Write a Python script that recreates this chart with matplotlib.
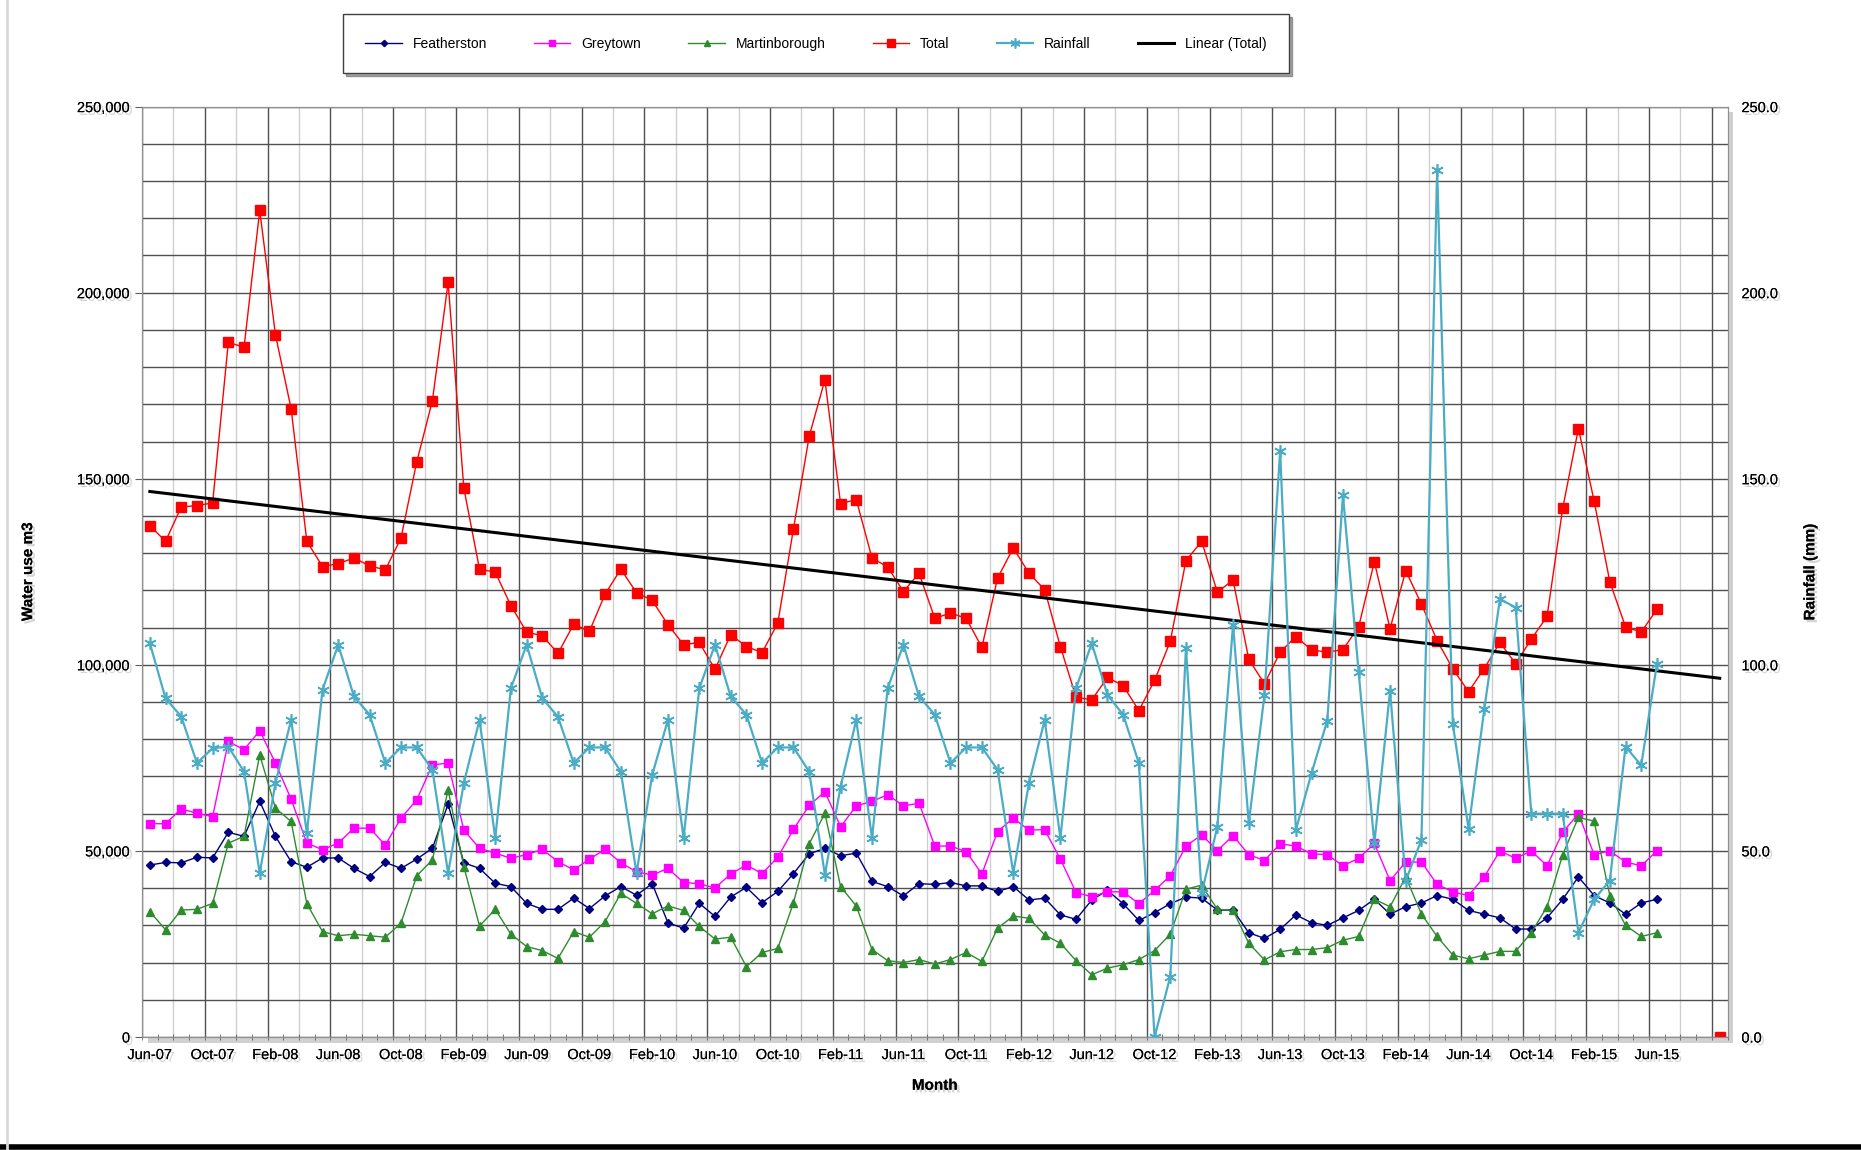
import numpy as np
import pandas as pd
import matplotlib
matplotlib.use('Agg')
import matplotlib.pyplot as plt
import matplotlib.patheffects as pe
from matplotlib.ticker import FuncFormatter, MultipleLocator
from matplotlib.patches import Rectangle
from matplotlib.lines import Line2D

plt.rcParams['font.family'] = ['Liberation Sans', 'DejaVu Sans']

# monthly categories, Jun-07 .. Oct-15
months = list(pd.date_range('2007-06-01', periods=101, freq='MS').strftime('%b-%y'))

# water use in thousands of m3 (Jun-07 .. Jun-15)
featherston = [46.2, 46.9, 46.8, 48.3, 48.1, 55.0, 53.9, 63.3, 53.9, 47.1, 45.6, 48.1, 48.1,
               45.3, 43.1, 46.9, 45.3, 47.8, 50.7, 62.6, 46.8, 45.3, 41.3, 40.4, 35.9,
               34.3, 34.3, 37.3, 34.5, 37.9, 40.4, 38.1, 41.2, 30.7, 29.2, 35.9, 32.4,
               37.6, 40.2, 36.1, 39.1, 43.9, 49.2, 50.7, 48.7, 49.4, 41.8, 40.4, 37.9, 41.2,
               41.0, 41.5, 40.6, 40.6, 39.1, 40.4, 36.8, 37.3, 32.8, 31.6, 36.8, 39.4,
               35.8, 31.3, 33.4, 35.8, 37.6, 37.3, 34.1, 34.1, 28.0, 26.5, 28.9, 32.8, 30.7,
               30, 32, 34, 37, 33, 35, 36, 38, 37, 34, 33, 32, 29, 29, 32, 37, 43, 38, 36,
               33, 36, 37]
greytown = [57.3, 57.3, 61.3, 60.1, 59.2, 79.4, 77.2, 82.3, 73.6, 63.9, 52.1, 50.3, 52.1,
            56.1, 56.1, 51.6, 58.8, 63.7, 73.1, 73.6, 55.6, 50.7, 49.4, 48.0, 49.0,
            50.4, 47.1, 44.9, 47.8, 50.4, 46.8, 44.4, 43.5, 45.3, 41.5, 41.2, 40.0,
            43.8, 46.2, 43.9, 48.3, 55.8, 62.2, 65.9, 56.5, 62.1, 63.3, 65.1, 62.1, 62.8,
            51.3, 51.3, 49.8, 43.8, 55.2, 58.8, 55.6, 55.7, 47.8, 38.8, 37.7, 39.0,
            39.0, 35.8, 39.4, 43.3, 51.3, 54.3, 50.1, 54.1, 49.0, 47.4, 51.9, 51.3, 49.2,
            49, 46, 48, 52, 42, 47, 47, 41, 39, 38, 43, 50, 48, 50, 46, 55, 60, 49, 50,
            47, 46, 50]
martinborough = [33.7, 28.8, 34.1, 34.3, 35.9, 52.1, 53.9, 75.8, 61.5, 57.9, 35.8, 28.3, 27.2,
                 27.6, 27.2, 26.8, 30.6, 43.3, 47.6, 66.4, 45.8, 29.8, 34.3, 27.6, 24.3,
                 23.2, 21.1, 28.3, 26.8, 31.0, 38.6, 35.9, 33.1, 35.2, 34.0, 29.7, 26.3,
                 26.8, 18.9, 22.7, 23.8, 36.1, 51.9, 60.1, 40.4, 35.2, 23.5, 20.5, 20.0, 20.8,
                 19.6, 20.8, 22.7, 20.3, 29.2, 32.5, 31.9, 27.4, 25.2, 20.5, 16.7, 18.5,
                 19.4, 20.8, 23.2, 27.6, 39.7, 40.8, 34.3, 34.0, 25.2, 20.7, 22.9, 23.5, 23.5,
                 24, 26, 27, 37, 35, 43, 33, 27, 22, 21, 22, 23, 23, 28, 35, 49, 59, 58, 38,
                 30, 27, 28]
total = [137.4, 133.2, 142.4, 142.8, 143.5, 186.7, 185.3, 222.1, 188.7, 168.8, 133.2, 126.4, 127.2,
         128.7, 126.6, 125.5, 134.1, 154.5, 171.0, 202.8, 147.5, 125.7, 124.9, 115.9, 108.8,
         107.8, 103.1, 110.9, 109.0, 119.0, 125.7, 119.4, 117.3, 110.8, 105.4, 106.0, 98.8,
         108.1, 104.9, 103.3, 111.2, 136.6, 161.4, 176.6, 143.3, 144.4, 128.7, 126.3, 119.7, 124.6,
         112.5, 113.9, 112.5, 104.7, 123.3, 131.4, 124.6, 120.2, 104.9, 91.3, 90.6, 96.6,
         94.4, 87.7, 95.8, 106.3, 128.0, 133.2, 119.5, 122.8, 101.5, 94.9, 103.4, 107.6, 104.0,
         103.4, 104.1, 110.2, 127.7, 109.7, 125.3, 116.3, 106.5, 98.9, 92.8, 99.0, 106.0,
         100.3, 106.9, 113.0, 142.1, 163.5, 144.0, 122.3, 110.2, 108.8, 114.9,
         None, None, None, 0.0]
# rainfall in mm
rainfall = [105.8, 91.0, 86.1, 73.6, 77.6, 78.0, 71.3, 44.0, 68.2, 85.2, 54.8, 93.3, 105.4,
            91.5, 86.6, 73.6, 77.8, 77.8, 71.8, 44.0, 68.2, 85.2, 53.4, 93.7, 105.4,
            91.0, 86.0, 73.6, 77.8, 77.8, 71.3, 44.0, 70.4, 85.2, 53.4, 93.7, 105.4,
            91.5, 86.6, 73.6, 77.8, 77.8, 71.3, 43.6, 67.3, 85.2, 53.4, 93.7, 105.4, 91.5,
            86.6, 73.6, 77.8, 77.8, 71.8, 44.0, 68.2, 85.2, 53.4, 93.7, 105.8, 91.9,
            86.6, 73.6, 0.0, 16.2, 104.5, 38.6, 56.5, 110.8, 57.4, 91.9, 157.5, 55.6, 70.9,
            85.0, 145.6, 98.0, 52.0, 93.0, 42.0, 53.0, 233.0, 84.0, 56.0, 88.0, 117.7,
            115.4, 60.0, 60.0, 60.0, 28.0, 37.0, 42.0, 78.0, 73.0, 100.3]


def padded(vals):
    arr = np.array([np.nan if v is None else v for v in vals], dtype=float)
    out = np.full(len(months), np.nan)
    out[:len(arr)] = arr
    return out


x = np.arange(len(months))
feath = padded(featherston) * 1000
grey = padded(greytown) * 1000
mart = padded(martinborough) * 1000
tot = padded(total) * 1000
rain = padded(rainfall)

# linear trend on total
ok = ~np.isnan(tot)
slope, icpt = np.polyfit(x[ok], tot[ok], 1)
trend = slope * x + icpt

shadow = [pe.withSimplePatchShadow(offset=(2, -2), shadow_rgbFace='#888888', alpha=0.35), pe.Normal()]

fig = plt.figure(figsize=(18.61, 11.5), dpi=100)
ax = fig.add_axes([0.0763, 0.0983, 0.852, 0.809])

# plot-area drop shadow
fig.patches.append(Rectangle((0.0763 + 0.003, 0.0983 - 0.005), 0.852, 0.809, transform=fig.transFigure,
                             facecolor='#bdbdbd', edgecolor='none', zorder=0, alpha=0.7))
ax.set_zorder(2)
ax.patch.set_facecolor('white')

lw = 1.0
ax.plot(x, feath, color='#000080', lw=lw, marker='D', ms=4, label='Featherston', zorder=4)
ax.plot(x, grey, color='#ff00ff', lw=lw, marker='s', ms=6, label='Greytown', zorder=4)
ax.plot(x, mart, color='#2e8b2e', lw=lw, marker='^', ms=6, label='Martinborough', zorder=4)
ax.plot(x, tot, color='#ff0000', lw=lw, marker='s', ms=7, label='Total', zorder=5)

ax2 = ax.twinx()
ax2.plot(x, rain, color='#4bacc6', lw=1.6, marker=(6, 2, 0), ms=9, mew=1.2, label='Rainfall', zorder=3)
ax.plot(x, trend, color='black', lw=2.2, label='Linear (Total)', zorder=6)

ax.set_xlim(-0.5, 100.5)
ax.set_ylim(0, 250000)
ax2.set_ylim(0, 250)

# grid
ax.yaxis.set_major_locator(MultipleLocator(50000))
ax.yaxis.set_minor_locator(MultipleLocator(10000))
ax.grid(axis='y', which='both', color='#505050', lw=1.0, zorder=0)
for b in np.arange(-0.5, 101, 2):
    dark = (b + 0.5) % 4 == 0
    ax.axvline(b, color='#505050' if dark else '#d0d0d0', lw=1.0, zorder=0.5)

# labels every fourth month up to Jun-15
lab_pos = x[:97:4]
ax.set_xticks(lab_pos)
ax.set_xticklabels([months[i] for i in lab_pos])
ax.set_xticks(np.arange(-0.5, 101, 1), minor=True)
ax.tick_params(axis='x', which='major', length=0, pad=8, labelsize=10.5)
ax.tick_params(axis='x', which='minor', length=5, direction='inout', color='#606060')
ax.tick_params(axis='y', which='major', length=5, labelsize=10.5, color='#606060')
ax.tick_params(axis='y', which='minor', length=0)
ax.yaxis.set_major_formatter(FuncFormatter(lambda v, p: '{:,.0f}'.format(v)))

ax2.set_yticks(np.arange(0, 251, 50))
ax2.yaxis.set_major_formatter(FuncFormatter(lambda v, p: '{:.1f}'.format(v)))
ax2.tick_params(axis='y', length=0, labelsize=10.5, pad=10)

for a in (ax, ax2):
    for s in a.spines.values():
        s.set_color('#909090')
    for lab in a.get_xticklabels() + a.get_yticklabels():
        lab.set_path_effects(shadow)

ax.set_xlabel('Month', fontsize=11, fontweight='bold', labelpad=12, path_effects=shadow)
ax.set_ylabel('Water use m3', fontsize=11, fontweight='bold', labelpad=30, path_effects=shadow)
ax2.set_ylabel('Rainfall (mm)', fontsize=11, fontweight='bold', labelpad=18, path_effects=shadow)

h1, l1 = ax.get_legend_handles_labels()
h2, l2 = ax2.get_legend_handles_labels()
order = ['Featherston', 'Greytown', 'Martinborough', 'Total', 'Rainfall', 'Linear (Total)']
hmap = dict(zip(l1 + l2, h1 + h2))
leg = fig.legend([hmap[k] for k in order], order, loc='center', bbox_to_anchor=(0.4385, 0.962),
                 ncol=6, fontsize=10, frameon=True, fancybox=False, shadow=True,
                 edgecolor='#404040', columnspacing=3.4, handlelength=2.6, borderpad=1.6,
                 markerscale=0.8)
leg.get_frame().set_linewidth(1.0)

# screenshot borders
fig.add_artist(Line2D([0, 1], [0.003, 0.003], color='black', lw=4, transform=fig.transFigure))
fig.add_artist(Line2D([0.004, 0.004], [0, 1], color='#d8d8d8', lw=2, transform=fig.transFigure))

fig.savefig('out.png', dpi=100, facecolor='white')
